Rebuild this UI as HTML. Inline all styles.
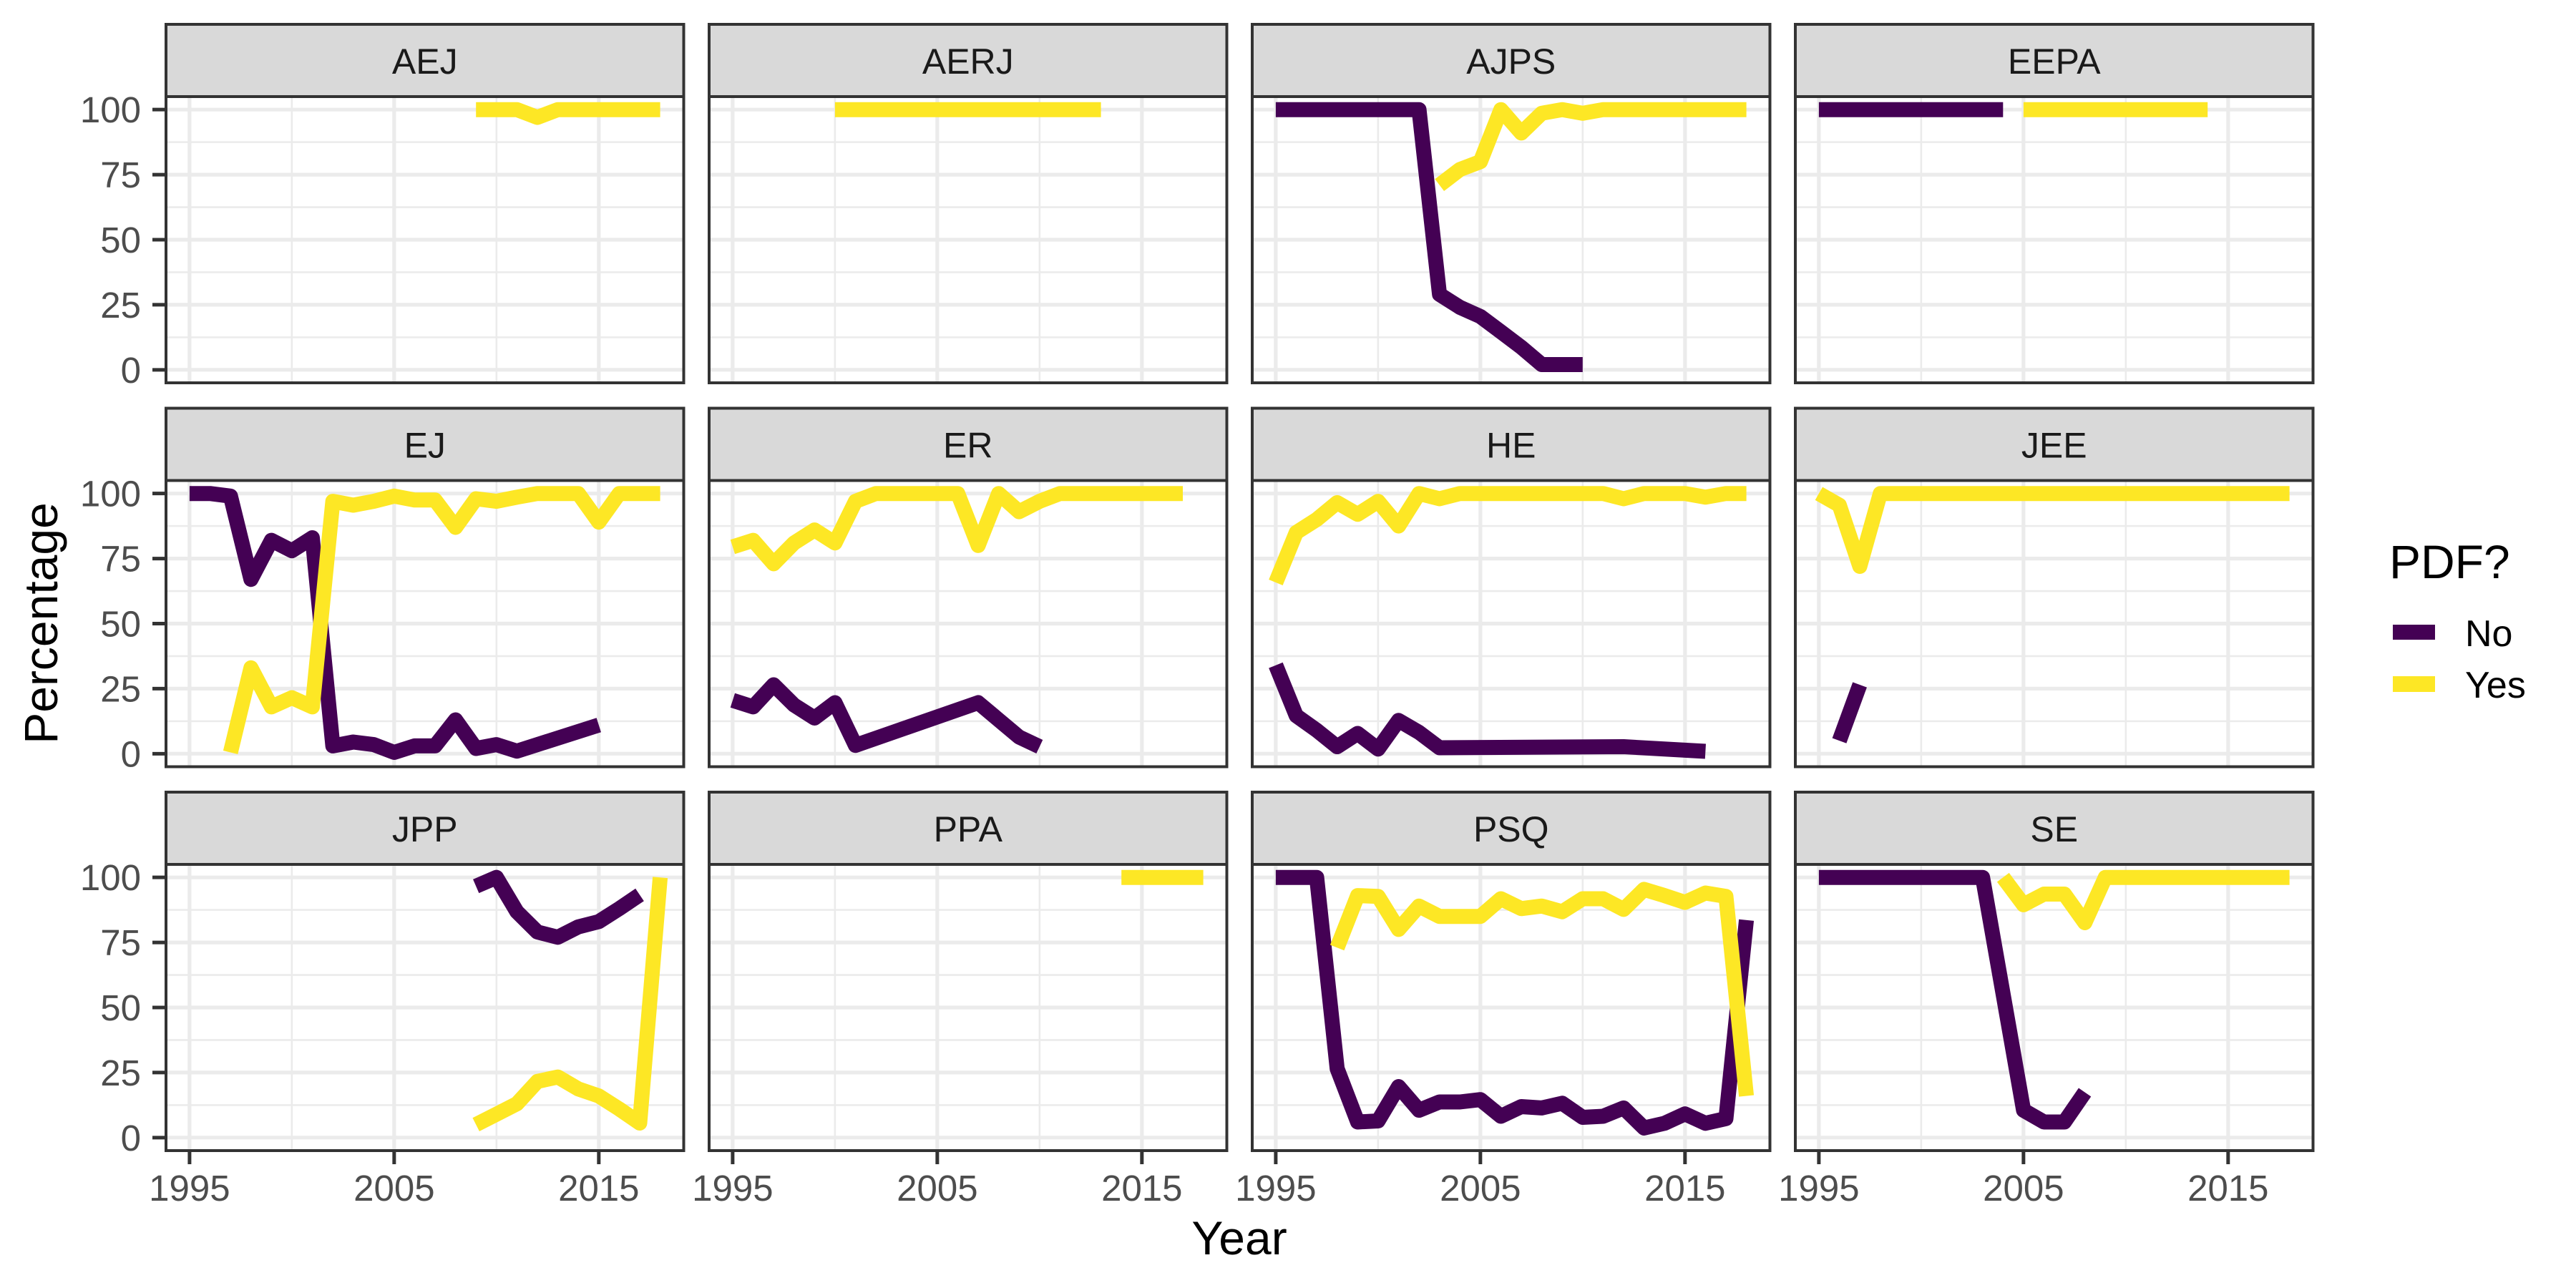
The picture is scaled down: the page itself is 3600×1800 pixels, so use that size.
<!DOCTYPE html>
<html><head><meta charset="utf-8"><title>PDF share by journal</title>
<style>
html,body{margin:0;padding:0;background:#fff;}
svg{display:block;font-family:"Liberation Sans",Arial,sans-serif;}
</style></head>
<body>
<svg id="chart" width="3600" height="1800" viewBox="0 0 3600 1800" xmlns="http://www.w3.org/2000/svg">
<rect x="0" y="0" width="3600" height="1800" fill="#fff"/>
<text x="0" y="0" transform="translate(80,871) rotate(-90)" text-anchor="middle" font-size="66" fill="#000">Percentage</text>
<text x="1732" y="1753" text-anchor="middle" font-size="66" fill="#000">Year</text>
<g>
<text x="3339" y="808" font-size="66" fill="#000">PDF?</text>
<rect x="3344" y="873" width="59" height="21" fill="#440154"/>
<text x="3445" y="903" font-size="52" fill="#000">No</text>
<rect x="3344" y="945" width="59" height="22" fill="#FDE725"/>
<text x="3445" y="975" font-size="52" fill="#000">Yes</text>
</g>
</svg>
<script>
// ---- data ----
const panelNames = ["AEJ","AERJ","AJPS","EEPA","EJ","ER","HE","JEE","JPP","PPA","PSQ","SE"];
const xTicks = [1995, 2005, 2015];
const xMinor = [2000, 2010];
const yTicks = [0, 25, 50, 75, 100];
const yMinor = [12.5, 37.5, 62.5, 87.5];

const AEJ_yes_years = [2009,2010,2011,2012,2013,2014,2015,2016,2017,2018];
const AEJ_yes_vals  = [100,100,100,97,100,100,100,100,100,100];
const AERJ_yes_years = [2000,2001,2002,2003,2004,2005,2006,2007,2008,2009,2010,2011,2012,2013];
const AERJ_yes_vals  = [100,100,100,100,100,100,100,100,100,100,100,100,100,100];
const AJPS_no_years = [1995,1996,1997,1998,1999,2000,2001,2002,2003,2004,2005,2006,2007,2008,2009,2010];
const AJPS_no_vals  = [100,100,100,100,100,100,100,100,29,24,20.5,14.6,8.7,2,2,2];
const AJPS_yes_years = [2003,2004,2005,2006,2007,2008,2009,2010,2011,2012,2013,2014,2015,2016,2017,2018];
const AJPS_yes_vals  = [71,77,80,100,91,98.6,100,98.6,100,100,100,100,100,100,100,100];
const EEPA_no_years = [1995,1996,1997,1998,1999,2000,2001,2002,2003,2004];
const EEPA_no_vals  = [100,100,100,100,100,100,100,100,100,100];
const EEPA_yes_years = [2005,2006,2007,2008,2009,2010,2011,2012,2013,2014];
const EEPA_yes_vals  = [100,100,100,100,100,100,100,100,100,100];
const EJ_no_years = [1995,1996,1997,1998,1999,2000,2001,2002,2003,2004,2005,2006,2007,2008,2009,2010,2011,2015];
const EJ_no_vals  = [100,100,99,67,82,78,83,3,4.5,3.5,0.5,3,3,13,2,3.5,1,11];
const EJ_yes_years = [1997,1998,1999,2000,2001,2002,2003,2004,2005,2006,2007,2008,2009,2010,2011,2012,2013,2014,2015,2016,2017,2018];
const EJ_yes_vals  = [0.5,33,18,21.5,18,97,95.5,97,99,97.5,97.5,87,98,97,98.6,100,100,100,89,100,100,100];
const ER_no_years = [1995,1996,1997,1998,1999,2000,2001,2007,2009,2010];
const ER_no_vals  = [20.5,18,26.5,18.7,13.7,19.6,3.2,19.6,6.4,2.7];
const ER_yes_years = [1995,1996,1997,1998,1999,2000,2001,2002,2003,2004,2005,2006,2007,2008,2009,2010,2011,2012,2013,2014,2015,2016,2017];
const ER_yes_vals  = [79.5,82,73,81,86,81,97,100,100,100,100,100,80,100,93,97,100,100,100,100,100,100,100];
const HE_no_years = [1995,1996,1997,1998,1999,2000,2001,2002,2003,2012,2016];
const HE_no_vals  = [34,14.6,9,2.7,7.8,1.8,12.8,8.2,2.3,2.7,0.9];
const HE_yes_years = [1995,1996,1997,1998,1999,2000,2001,2002,2003,2004,2005,2006,2007,2008,2009,2010,2011,2012,2013,2014,2015,2016,2017,2018];
const HE_yes_vals  = [65.8,85,90,96.5,92,97,87.5,100,98,100,100,100,100,100,100,100,100,98,100,100,100,98.6,100,100];
const JEE_no_years = [1996,1997];
const JEE_no_vals  = [5,26.5];
const JEE_yes_years = [1995,1996,1997,1998,1999,2000,2001,2002,2003,2004,2005,2006,2007,2008,2009,2010,2011,2012,2013,2014,2015,2016,2017,2018];
const JEE_yes_vals  = [100,95.5,72,100,100,100,100,100,100,100,100,100,100,100,100,100,100,100,100,100,100,100,100,100];
const JPP_no_years = [2009,2010,2011,2012,2013,2014,2015,2016,2017];
const JPP_no_vals  = [96.6,100,86.8,79,77,81,83,88,93.3];
const JPP_yes_years = [2009,2010,2011,2012,2013,2014,2015,2016,2017,2018];
const JPP_yes_vals  = [5,9,13,21.6,23.3,18.7,16,11,5.6,100];
const PPA_yes_years = [2014,2015,2016,2017,2018];
const PPA_yes_vals  = [100,100,100,100,100];
const PSQ_no_years = [1995,1996,1997,1998,1999,2000,2001,2002,2003,2004,2005,2006,2007,2008,2009,2010,2011,2012,2013,2014,2015,2016,2017,2018];
const PSQ_no_vals  = [100,100,100,26.5,6,6.4,19.6,10.5,13.7,13.7,14.6,8.2,11.9,11.4,13.2,7.8,8.2,11.4,3.7,5.5,9.1,5.5,7.3,83.6];
const PSQ_yes_years = [1998,1999,2000,2001,2002,2003,2004,2005,2006,2007,2008,2009,2010,2011,2012,2013,2014,2015,2016,2017,2018];
const PSQ_yes_vals  = [73,93,92.7,80,89,85,85,85,91.8,88,89,86.8,91.8,91.8,87.7,95.4,93,90.4,94,92.7,16];
const SE_no_years = [1995,1996,1997,1998,1999,2000,2001,2002,2003,2005,2006,2007,2008];
const SE_no_vals  = [100,100,100,100,100,100,100,100,100,10.5,6,6,17.4];
const SE_yes_years = [2004,2005,2006,2007,2008,2009,2010,2011,2012,2013,2014,2015,2016,2017,2018];
const SE_yes_vals  = [100,89.5,93.6,93.6,82.6,100,100,100,100,100,100,100,100,100,100];

const seriesNo = {AJPS:[AJPS_no_years,AJPS_no_vals],EEPA:[EEPA_no_years,EEPA_no_vals],EJ:[EJ_no_years,EJ_no_vals],ER:[ER_no_years,ER_no_vals],HE:[HE_no_years,HE_no_vals],JEE:[JEE_no_years,JEE_no_vals],JPP:[JPP_no_years,JPP_no_vals],PSQ:[PSQ_no_years,PSQ_no_vals],SE:[SE_no_years,SE_no_vals]};
const seriesYes = {AEJ:[AEJ_yes_years,AEJ_yes_vals],AERJ:[AERJ_yes_years,AERJ_yes_vals],AJPS:[AJPS_yes_years,AJPS_yes_vals],EEPA:[EEPA_yes_years,EEPA_yes_vals],EJ:[EJ_yes_years,EJ_yes_vals],ER:[ER_yes_years,ER_yes_vals],HE:[HE_yes_years,HE_yes_vals],JEE:[JEE_yes_years,JEE_yes_vals],JPP:[JPP_yes_years,JPP_yes_vals],PPA:[PPA_yes_years,PPA_yes_vals],PSQ:[PSQ_yes_years,PSQ_yes_vals],SE:[SE_yes_years,SE_yes_vals]};

// ---- layout ----
const NS = "http://www.w3.org/2000/svg";
const svg = document.getElementById("chart");
const colLeft0 = 232, colStride = 759, panelW = 723.5;
const rowTop0 = 34, rowStride = 536.5, stripH = 101, panelH = 400;
const xMin = 1993.85, xMax = 2019.15, yMin = -5, yMax = 105;
function mk(tag, attrs){ const e = document.createElementNS(NS, tag); for (const k in attrs) e.setAttribute(k, attrs[k]); return e; }

panelNames.forEach(function(name, i){
  const c = i % 4, r = Math.floor(i / 4);
  const L = colLeft0 + c * colStride;
  const sTop = rowTop0 + r * rowStride;
  const T = sTop + stripH;
  const xs = function(v){ return L + (v - xMin) / (xMax - xMin) * panelW; };
  const ys = function(v){ return T + (yMax - v) / (yMax - yMin) * panelH; };
  const g = mk("g", {});
  
  
  svg.appendChild(g);
  // strip
  const strip = mk("rect", {x:L, y:sTop, width:panelW, height:stripH, fill:"#D9D9D9", stroke:"#333333", "stroke-width":4});
  
  
  g.appendChild(strip);
  const st = mk("text", {x:L + panelW/2, y:sTop + 69, "text-anchor":"middle", "font-size":50, fill:"#1A1A1A"});
  st.textContent = name;
  
  
  g.appendChild(st);
  // background
  g.appendChild(mk("rect", {x:L, y:T, width:panelW, height:panelH, fill:"#fff"}));
  // grid
  yMinor.forEach(function(v){ g.appendChild(mk("line", {x1:L, x2:L+panelW, y1:ys(v), y2:ys(v), stroke:"#EBEBEB", "stroke-width":2.6})); });
  xMinor.forEach(function(v){ g.appendChild(mk("line", {x1:xs(v), x2:xs(v), y1:T, y2:T+panelH, stroke:"#EBEBEB", "stroke-width":2.6})); });
  yTicks.forEach(function(v){ g.appendChild(mk("line", {x1:L, x2:L+panelW, y1:ys(v), y2:ys(v), stroke:"#EBEBEB", "stroke-width":5.2})); });
  xTicks.forEach(function(v){ g.appendChild(mk("line", {x1:xs(v), x2:xs(v), y1:T, y2:T+panelH, stroke:"#EBEBEB", "stroke-width":5.2})); });
  // series
  [[seriesNo[name], "#440154", "no"], [seriesYes[name], "#FDE725", "yes"]].forEach(function(s){
    if (!s[0]) return;
    const yrs = s[0][0], vals = s[0][1];
    const pts = yrs.map(function(y, k){ return xs(y).toFixed(1) + "," + ys(vals[k]).toFixed(1); }).join(" ");
    const pl = mk("polyline", {points:pts, fill:"none", stroke:s[1], "stroke-width":21, "stroke-linejoin":"round", "stroke-linecap":"butt"});
    
    
    g.appendChild(pl);
  });
  // border
  g.appendChild(mk("rect", {x:L, y:T, width:panelW, height:panelH, fill:"none", stroke:"#333333", "stroke-width":4}));
  // y axis (first column)
  if (c === 0) {
    yTicks.forEach(function(v){
      g.appendChild(mk("line", {x1:L-19, x2:L, y1:ys(v), y2:ys(v), stroke:"#333333", "stroke-width":5}));
      const t = mk("text", {x:L-35, y:ys(v)+18, "text-anchor":"end", "font-size":51, fill:"#4D4D4D"});
      t.textContent = v;
      
      
      g.appendChild(t);
    });
  }
  // x axis (bottom row)
  if (r === 2) {
    xTicks.forEach(function(v){
      g.appendChild(mk("line", {x1:xs(v), x2:xs(v), y1:T+panelH, y2:T+panelH+19, stroke:"#333333", "stroke-width":5}));
      const t = mk("text", {x:xs(v), y:1678, "text-anchor":"middle", "font-size":51, fill:"#4D4D4D"});
      t.textContent = v;
      
      
      g.appendChild(t);
    });
  }
});
</script>
</body></html>
